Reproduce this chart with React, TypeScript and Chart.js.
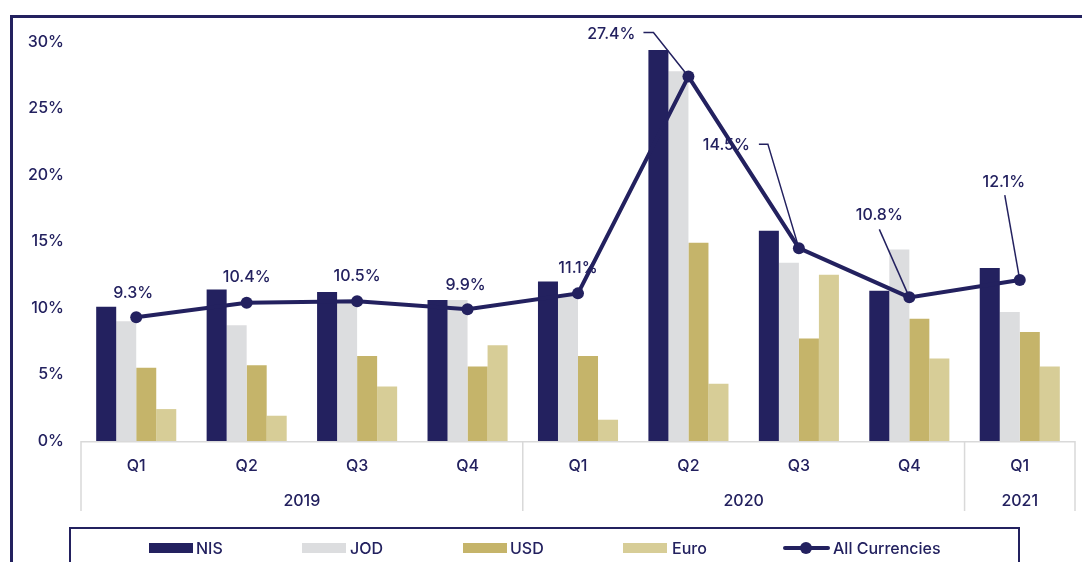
import { useEffect, useRef } from "react";
import { Chart, registerables } from "chart.js";
Chart.register(...registerables);

// ---- data ----
const quarters = ["Q1", "Q2", "Q3", "Q4", "Q1", "Q2", "Q3", "Q4", "Q1"];
const years = ["2019", "2019", "2019", "2019", "2020", "2020", "2020", "2020", "2021"];
const nis = [10.1, 11.4, 11.2, 10.6, 12.0, 29.4, 15.8, 11.3, 13.0];
const jod = [9.0, 8.7, 10.5, 10.6, 11.0, 27.8, 13.4, 14.4, 9.7];
const usd = [5.5, 5.7, 6.4, 5.6, 6.4, 14.9, 7.7, 9.2, 8.2];
const euro = [2.4, 1.9, 4.1, 7.2, 1.6, 4.3, 12.5, 6.2, 5.6];
const allCurrencies = [9.3, 10.4, 10.5, 9.9, 11.1, 27.4, 14.5, 10.8, 12.1];
const yMin = 0;
const yMax = 30;
const yStep = 5;

// ---- styles ----
const NAVY = "#23215f";
const C_NIS = "#23215f";
const C_JOD = "#dcdddf";
const C_USD = "#c5b46a";
const C_EURO = "#d7cd97";
const GRID = "#d9d9d9";
const FONT = 'Inter, "Open Sans", sans-serif';
const FS = 16;
const FW = 500;

// label placement relative to the point (pixels), leader path offsets
const labelPlacement: { dx: number; dy: number; align: CanvasTextAlign; leader?: number[][] }[] = [
  { dx: -3, dy: -24, align: "center" },
  { dx: 0, dy: -25, align: "center" },
  { dx: 0, dy: -25, align: "center" },
  { dx: -2, dy: -24, align: "center" },
  { dx: 0, dy: -25, align: "center" },
  { dx: -53, dy: -42, align: "right", leader: [[-45, -44], [-35, -44], [0, 0]] },
  { dx: -49, dy: -103, align: "right", leader: [[-40, -104], [-31, -104], [0, 0]] },
  { dx: -30, dy: -82, align: "center", leader: [[-30, -68], [0, 0]] },
  { dx: -16, dy: -98, align: "center", leader: [[-15, -85], [0, 0]] },
];

const LINE_INDEX = 4;

const axisPlugin = {
  id: "twoLevelAxis",
  beforeDatasetsDraw(chart: any) {
    const { ctx, chartArea } = chart;
    const xs = chart.scales.x;
    const n = quarters.length;
    const step = (chartArea.right - chartArea.left) / n;
    const bottom = chartArea.bottom;
    ctx.save();
    ctx.strokeStyle = GRID;
    ctx.lineWidth = 1.5;
    ctx.beginPath();
    ctx.moveTo(chartArea.left, bottom + 0.75);
    ctx.lineTo(chartArea.right, bottom + 0.75);
    ctx.stroke();
    const bounds: number[] = [0];
    for (let i = 1; i < n; i++) if (years[i] !== years[i - 1]) bounds.push(i);
    bounds.push(n);
    ctx.beginPath();
    bounds.forEach((b) => {
      const x = xs.getPixelForValue(Math.min(b, n - 1)) + (b === n ? step / 2 : -step / 2);
      ctx.moveTo(x, bottom);
      ctx.lineTo(x, bottom + 70);
    });
    ctx.stroke();
    ctx.fillStyle = NAVY;
    ctx.font = `${FW} ${FS}px ${FONT}`;
    ctx.textAlign = "center";
    ctx.textBaseline = "middle";
    quarters.forEach((q, i) => {
      ctx.fillText(q, xs.getPixelForValue(i), bottom + 25);
    });
    for (let k = 0; k < bounds.length - 1; k++) {
      const a = bounds[k];
      const b = bounds[k + 1];
      const xa = xs.getPixelForValue(a) - step / 2;
      const xb = xs.getPixelForValue(b - 1) + step / 2;
      ctx.fillText(years[a], (xa + xb) / 2, bottom + 60);
    }
    ctx.restore();
  },
};

const labelPlugin = {
  id: "pointLabels",
  beforeDatasetDraw(chart: any, args: any) {
    if (args.index !== LINE_INDEX) return;
    const { ctx } = chart;
    const meta = chart.getDatasetMeta(LINE_INDEX);
    ctx.save();
    ctx.fillStyle = NAVY;
    ctx.strokeStyle = NAVY;
    ctx.lineWidth = 1.5;
    ctx.font = `${FW} ${FS}px ${FONT}`;
    ctx.textBaseline = "middle";
    meta.data.forEach((pt: any, i: number) => {
      const p = labelPlacement[i];
      ctx.textAlign = p.align;
      ctx.fillText(`${allCurrencies[i].toFixed(1)}%`, pt.x + p.dx, pt.y + p.dy);
      if (p.leader) {
        ctx.beginPath();
        p.leader.forEach(([lx, ly], j) => {
          if (j === 0) ctx.moveTo(pt.x + lx, pt.y + ly);
          else ctx.lineTo(pt.x + lx, pt.y + ly);
        });
        ctx.stroke();
      }
    });
    ctx.restore();
  },
};

function LegendBox() {
  const items = [
    { label: "NIS", color: C_NIS, left: 149, text: 196, type: "box" },
    { label: "JOD", color: C_JOD, left: 302, text: 350, type: "box" },
    { label: "USD", color: C_USD, left: 463, text: 510, type: "box" },
    { label: "Euro", color: C_EURO, left: 623, text: 672, type: "box" },
    { label: "All Currencies", color: NAVY, left: 783, text: 833, type: "line" },
  ];
  return (
    <>
      <div
        style={{
          position: "absolute",
          left: 69,
          top: 527,
          width: 947,
          height: 60,
          border: `2px solid ${NAVY}`,
        }}
      />
      {items.map((it) => (
        <div key={it.label}>
          {it.type === "box" ? (
            <div
              style={{
                position: "absolute",
                left: it.left,
                top: 543,
                width: 44,
                height: 10,
                background: it.color,
              }}
            />
          ) : (
            <>
              <div
                style={{
                  position: "absolute",
                  left: it.left,
                  top: 546,
                  width: 47,
                  height: 4,
                  borderRadius: 2,
                  background: it.color,
                }}
              />
              <div
                style={{
                  position: "absolute",
                  left: it.left + 17,
                  top: 542,
                  width: 12,
                  height: 12,
                  borderRadius: 6,
                  background: it.color,
                }}
              />
            </>
          )}
          <div
            style={{
              position: "absolute",
              left: it.text,
              top: 537,
              height: 22,
              lineHeight: "22px",
              fontSize: FS,
              fontWeight: FW,
              color: NAVY,
              fontFamily: FONT,
              whiteSpace: "nowrap",
            }}
          >
            {it.label}
          </div>
        </div>
      ))}
    </>
  );
}

export default function App() {
  const ref = useRef<HTMLCanvasElement>(null);
  useEffect(() => {
    if (!ref.current) return;
    const barBase = {
      type: "bar" as const,
      categoryPercentage: 0.725,
      barPercentage: 1.0,
      borderWidth: 0,
      order: 1,
    };
    const chart = new Chart(ref.current, {
      type: "bar",
      data: {
        labels: quarters.map((q, i) => `${q} ${years[i]}`),
        datasets: [
          { ...barBase, label: "NIS", data: nis, backgroundColor: C_NIS },
          { ...barBase, label: "JOD", data: jod, backgroundColor: C_JOD },
          { ...barBase, label: "USD", data: usd, backgroundColor: C_USD },
          { ...barBase, label: "Euro", data: euro, backgroundColor: C_EURO },
          {
            type: "line" as const,
            label: "All Currencies",
            data: allCurrencies,
            borderColor: NAVY,
            backgroundColor: NAVY,
            borderWidth: 4,
            pointRadius: 6,
            pointBackgroundColor: NAVY,
            pointBorderWidth: 0,
            tension: 0,
            order: 0,
          } as any,
        ],
      },
      options: {
        animation: false,
        responsive: false,
        layout: { padding: { left: 0, right: 7, top: 42, bottom: 87 } },
        plugins: { legend: { display: false }, tooltip: { enabled: false } },
        scales: {
          x: { display: false, offset: true },
          y: {
            min: yMin,
            max: yMax,
            border: { display: false },
            grid: { display: false, drawTicks: false },
            ticks: {
              stepSize: yStep,
              padding: 17,
              color: NAVY,
              font: { family: FONT, size: FS, weight: FW as any },
              callback: (v: any) => `${v}%`,
            },
            afterFit: (scale: any) => {
              scale.width = 81;
            },
          },
        },
      },
      plugins: [axisPlugin, labelPlugin],
    });
    return () => chart.destroy();
  }, []);

  return (
    <div
      style={{
        position: "absolute",
        left: 0,
        top: 0,
        width: 1082,
        height: 562,
        overflow: "hidden",
        background: "#ffffff",
        fontFamily: FONT,
      }}
    >
      <div
        style={{
          position: "absolute",
          left: 10,
          top: 15,
          width: 1200,
          height: 700,
          borderTop: `3px solid ${NAVY}`,
          borderLeft: `3px solid ${NAVY}`,
        }}
      />
      <canvas ref={ref} width={1082} height={528} style={{ position: "absolute", left: 0, top: 0 }} />
      <LegendBox />
    </div>
  );
}
